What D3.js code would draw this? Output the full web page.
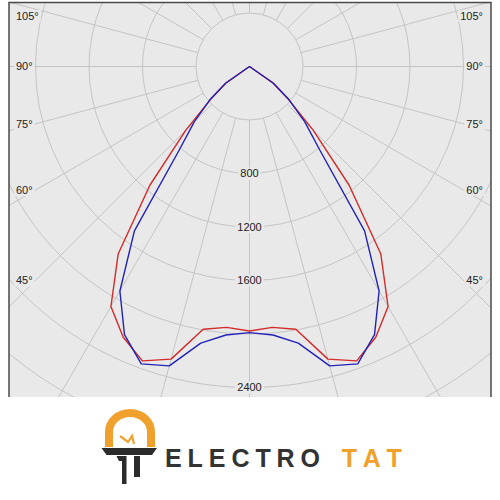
<!DOCTYPE html>
<html><head><meta charset="utf-8">
<script src="https://cdn.jsdelivr.net/npm/d3@7"></script>
<style>body{margin:0;background:#fff}svg{display:block}</style>
</head><body>
<svg id="chart" width="500" height="500"></svg>
<script>
// ---- data ----
const gammaAngles = [0,5,10,15,20,25,30,35,40,45,50,55,60,65,70,75,80,85,90];
const planeC0C180 = [1978,1958,1995,2265,2342,2234,2072,1712,1159,673,374,217,0,0,0,0,0,0,0];
const planeC90C270 = [1990,2015,2100,2317,2366,2212,1938,1500,822,583,385,218,0,0,0,0,0,0,0];
const ringValues = [400,800,1200,1600,2000,2400,2800,3200,3600];
const ringLabelValues = [800,1200,1600,2400];
const angleLabels = [45,60,75,90,105];
const spokeAngles = d3.range(0,360,15);

// ---- layout ----
const svg = d3.select("#chart");
const box = {x0:9, y0:2.5, x1:491, y1:397};
const cx = 249.5, cy = 66.5;
const bg = "#e9e9e9";
const r = d3.scaleLinear().domain([0,400]).range([0,53.5]);
const rad = d => d*Math.PI/180;

svg.append("defs").append("clipPath").attr("id","plotClip")
  .append("rect").attr("x",box.x0).attr("y",box.y0)
  .attr("width",box.x1-box.x0).attr("height",box.y1-box.y0);

svg.append("rect").attr("x",box.x0).attr("y",box.y0)
  .attr("width",box.x1-box.x0).attr("height",box.y1-box.y0).attr("fill",bg);

const plot = svg.append("g").attr("clip-path","url(#plotClip)");
const g = plot.append("g").attr("transform",`translate(${cx},${cy})`);

// rings
g.selectAll("circle.ring").data(ringValues).join("circle")
  .attr("class","ring").attr("r",d=>r(d))
  .attr("fill","none").attr("stroke","#c4c4c4").attr("stroke-width",1);

// spokes
g.selectAll("line.spoke").data(spokeAngles).join("line")
  .attr("class","spoke")
  .attr("x1",d=>r(400)*Math.sin(rad(d))).attr("y1",d=>r(400)*Math.cos(rad(d)))
  .attr("x2",d=>r(3600)*Math.sin(rad(d))).attr("y2",d=>r(3600)*Math.cos(rad(d)))
  .attr("stroke","#c4c4c4").attr("stroke-width",1);

// ring labels
const fontFam = "'Liberation Sans', Arial, sans-serif";
ringLabelValues.forEach(v=>{
  const lg = g.append("g").attr("transform",`translate(0,${r(v)})`);
  const rect = lg.append("rect").attr("fill",bg);
  const t = lg.append("text").text(v).attr("text-anchor","middle")
    .attr("dy","0.35em").attr("font-family",fontFam).attr("font-size",11).attr("fill","#222");
  const w = t.node().getComputedTextLength();
  rect.attr("x",-w/2-2).attr("y",-6).attr("width",w+4).attr("height",12);
});

// curves
function curvePoints(vals){
  const pts=[];
  for(let i=gammaAngles.length-1;i>=0;i--) pts.push([Math.PI+rad(gammaAngles[i]), vals[i]]);
  for(let i=1;i<gammaAngles.length;i++) pts.push([Math.PI-rad(gammaAngles[i]), vals[i]]);
  return pts;
}
const lineR = d3.lineRadial().angle(d=>d[0]).radius(d=>r(d[1]));
g.append("path").attr("d",lineR(curvePoints(planeC0C180)))
  .attr("fill","none").attr("stroke","#d42a2a").attr("stroke-width",1.4).attr("stroke-linejoin","round");
g.append("path").attr("d",lineR(curvePoints(planeC90C270)))
  .attr("fill","none").attr("stroke","#2222b8").attr("stroke-width",1.4).attr("stroke-linejoin","round");

// angle labels
angleLabels.forEach(a=>{
  let y = cy + 214/Math.tan(rad(a));
  y = Math.max(y,16);
  [["start",16],["end",483]].forEach(([anchor,x])=>{
    const lg = plot.append("g");
    const rect = lg.append("rect").attr("fill",bg);
    const t = lg.append("text").text(a+"°").attr("x",x).attr("y",y)
      .attr("text-anchor",anchor).attr("dy","0.35em")
      .attr("font-family",fontFam).attr("font-size",11).attr("fill","#222");
    const w = t.node().getComputedTextLength();
    const rx = anchor==="start" ? x-2 : x-w-2;
    rect.attr("x",rx).attr("y",y-6).attr("width",w+4).attr("height",12);
  });
});

// frame
svg.append("path")
  .attr("d",`M${box.x0},${box.y1}V${box.y0}H${box.x1}V${box.y1}`)
  .attr("fill","none").attr("stroke","#4a4a4a").attr("stroke-width",1.5);

// ---- logo ----
const logo = svg.append("g");
const orange = "#f0a02c", dark = "#2b2b2b";
logo.append("path").attr("d","M109,447 V432 A21,19 0 0 1 151,432 V447")
  .attr("fill","none").attr("stroke",orange).attr("stroke-width",8);
logo.append("path").attr("d","M120,436 L128,442 L132,436 L134,444")
  .attr("fill","none").attr("stroke",orange).attr("stroke-width",2.2).attr("stroke-linejoin","miter");
logo.append("path").attr("d","M101.5,448 H157 L152,455 H106.5 Z").attr("fill",dark);
logo.append("path").attr("d","M116.5,456 H126.5 V484 H122 V461 H119 Z").attr("fill",dark);
logo.append("path").attr("d","M134,456 H140 V477 H134 Z").attr("fill",dark);
logo.append("text").text("ELECTRO").attr("x",165).attr("y",466.7)
  .attr("textLength",155).attr("lengthAdjust","spacing")
  .attr("font-family",fontFam).attr("font-size",25).attr("font-weight","bold").attr("fill","#333");
logo.append("text").text("TAT").attr("x",341.7).attr("y",466.7)
  .attr("textLength",60).attr("lengthAdjust","spacing")
  .attr("font-family",fontFam).attr("font-size",25).attr("font-weight","bold").attr("fill",orange);
</script>
</body></html>
